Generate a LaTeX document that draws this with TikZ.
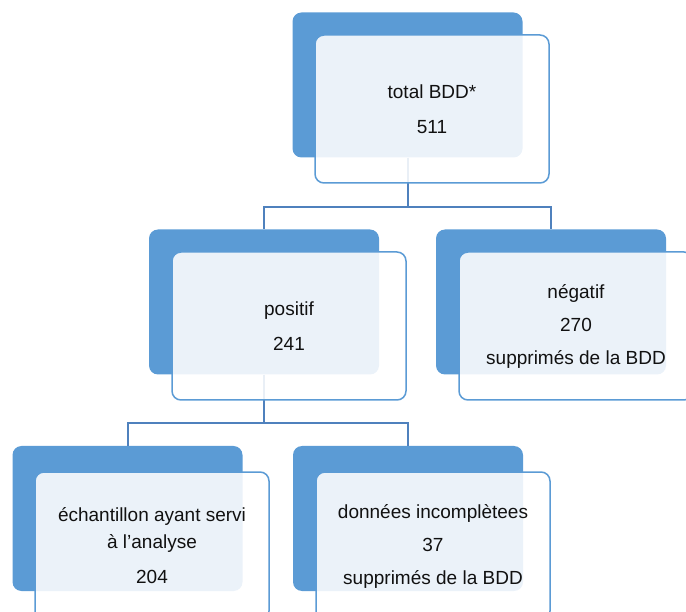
\documentclass[tikz,border=0pt]{standalone}
\usepackage{fontspec}
\setmainfont{Liberation Sans}[Ligatures=ResetAll]
\usepackage{tikz}
\usetikzlibrary{calc}
\definecolor{sablue}{HTML}{5B9BD5}
\definecolor{linkblue}{HTML}{4F81BD}
\definecolor{inktxt}{HTML}{111111}
\tikzset{
  backbox/.style={rectangle,rounded corners=9pt,fill=sablue,minimum width=230pt,minimum height=145pt,inner sep=0pt},
  frontbox/.style={rectangle,rounded corners=9pt,draw=sablue,line width=1.5pt,fill=white,fill opacity=0.88,text opacity=1,
    minimum width=234pt,minimum height=148pt,inner sep=0pt,align=center,text=inktxt,font=\fontsize{19}{27}\selectfont},
  link/.style={draw=linkblue,line width=2pt},
}
\begin{document}
\begin{tikzpicture}[x=1pt,y=-1pt]
  \useasboundingbox (0,0) rectangle (686,612);
  \clip (0,0) rectangle (686,612);
  % back boxes
  \node[backbox] (totb) at (407.5,85) {};
  \node[backbox] (posb) at (264,302) {};
  \node[backbox] (negb) at (551,302) {};
  \node[backbox] (echb) at (127.5,518.5) {};
  \node[backbox] (donb) at (408,518.5) {};
  % links (drawn under the front boxes)
  \coordinate (j1) at (407.5,207);
  \coordinate (j2) at (264,423);
  \draw[link] (totb.south) -- (totb.south |- j1) -| (posb.north);
  \draw[link] (totb.south |- j1) -| (negb.north);
  \draw[link] (posb.south) -- (posb.south |- j2) -| (echb.north);
  \draw[link] (posb.south |- j2) -| (donb.north);
  % front boxes
  \node[frontbox] (tot) at (432,109) {total BDD*\\[8pt]511};
  \node[frontbox] (pos) at (289,326) {positif\\[8pt]241};
  \node[frontbox] (neg) at (576,326) {négatif\\[6pt]270\\[6pt]supprimés de la BDD};
  \node[frontbox] (ech) at (152,546) {échantillon ayant servi\\à l'analyse\\[8pt]204};
  \node[frontbox] (don) at (433,546) {données incomplètees\\[6pt]37\\[6pt]supprimés de la BDD};
\end{tikzpicture}
\end{document}
